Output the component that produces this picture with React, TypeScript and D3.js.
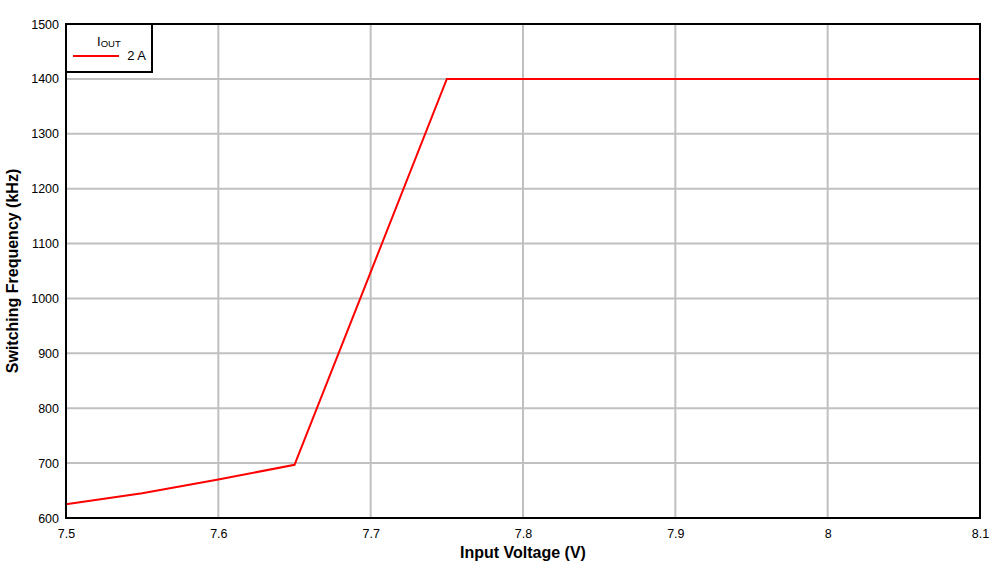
import * as React from 'react';
import { scaleLinear, line, select, axisBottom, axisLeft } from 'd3';

// data
const inputVoltage = [7.5, 7.55, 7.6, 7.65, 7.7, 7.75, 7.8, 7.9, 8.0, 8.1];
const switchingFreq = [625, 645, 670, 697, 1048, 1400, 1400, 1400, 1400, 1400];
const xTicks = [7.5, 7.6, 7.7, 7.8, 7.9, 8, 8.1];
const yTicks = [600, 700, 800, 900, 1000, 1100, 1200, 1300, 1400, 1500];
const seriesLabel = '2 A';

const W = 1006;
const H = 570;
const margin = { top: 24, right: 26, bottom: 52, left: 66 };
const FONT = '"Liberation Sans", Arial, sans-serif';

const App = () => {
    const svgRef = React.useRef<SVGSVGElement>(null);

    React.useEffect(() => {
        if (!svgRef.current) return;
        const svg = select(svgRef.current);
        const iw = W - margin.left - margin.right;
        const ih = H - margin.top - margin.bottom;

        const x = scaleLinear().domain([7.5, 8.1]).range([0, iw]);
        const y = scaleLinear().domain([600, 1500]).range([ih, 0]);

        const g = svg.select('.plot').attr('transform', `translate(${margin.left},${margin.top})`);

        // grid
        g.select('.grid-x')
            .selectAll('line')
            .data(xTicks)
            .join('line')
            .attr('x1', d => x(d)).attr('x2', d => x(d))
            .attr('y1', 0).attr('y2', ih)
            .attr('stroke', '#c0c0c0').attr('stroke-width', 2);
        g.select('.grid-y')
            .selectAll('line')
            .data(yTicks)
            .join('line')
            .attr('x1', 0).attr('x2', iw)
            .attr('y1', d => y(d)).attr('y2', d => y(d))
            .attr('stroke', '#c0c0c0').attr('stroke-width', 2);

        const xAxis = axisBottom(x).tickValues(xTicks).tickSize(0).tickPadding(11).tickFormat(d => String(d));
        g.select('.x-axis').attr('transform', `translate(0,${ih})`).call(xAxis as any);
        const yAxis = axisLeft(y).tickValues(yTicks).tickSize(0).tickPadding(7).tickFormat(d => String(d));
        g.select('.y-axis').call(yAxis as any);

        g.selectAll('.x-axis .domain, .y-axis .domain').remove();
        g.selectAll('.x-axis text, .y-axis text')
            .attr('fill', '#000')
            .style('font-family', FONT)
            .style('font-size', '12.5px');

        const pts = inputVoltage.map((v, i) => [v, switchingFreq[i]] as [number, number]);
        const path = line<[number, number]>().x(d => x(d[0])).y(d => y(d[1]));
        g.select('.series')
            .attr('d', path(pts))
            .attr('fill', 'none')
            .attr('stroke', '#ff0000')
            .attr('stroke-width', 2);

        g.select('.frame')
            .attr('x', 0).attr('y', 0).attr('width', iw).attr('height', ih)
            .attr('fill', 'none').attr('stroke', '#000').attr('stroke-width', 2);

        // legend
        const lg = g.select('.legend');
        lg.select('rect')
            .attr('x', 0).attr('y', 0).attr('width', 86).attr('height', 48)
            .attr('fill', '#fff').attr('stroke', '#000').attr('stroke-width', 2);
        lg.select('line')
            .attr('x1', 7).attr('x2', 53).attr('y1', 32).attr('y2', 32)
            .attr('stroke', '#ff0000').attr('stroke-width', 2);
    }, []);

    return (
        <svg ref={svgRef} width={W} height={H} style={{ position: 'absolute', left: 0, top: 0, background: '#fff' }}>
            <g className="plot">
                <g className="grid-x" />
                <g className="grid-y" />
                <path className="series" />
                <rect className="frame" />
                <g className="x-axis" />
                <g className="y-axis" />
                <g className="legend">
                    <rect />
                    <line />
                    <text x={31} y={22} fontFamily={FONT} fontSize={13} fill="#000">
                        I<tspan fontSize={9.5} dy={1}>OUT</tspan>
                    </text>
                    <text x={80} y={36} textAnchor="end" fontFamily={FONT} fontSize={13} fill="#000">{seriesLabel}</text>
                </g>
            </g>
            <text x={margin.left + (W - margin.left - margin.right) / 2} y={558} textAnchor="middle"
                fontFamily={FONT} fontSize={16} fontWeight="bold" fill="#000">Input Voltage (V)</text>
            <text transform={`translate(18,${margin.top + (H - margin.top - margin.bottom) / 2}) rotate(-90)`}
                textAnchor="middle" fontFamily={FONT} fontSize={16} fontWeight="bold" fill="#000">Switching Frequency (kHz)</text>
        </svg>
    );
};

export default App;
